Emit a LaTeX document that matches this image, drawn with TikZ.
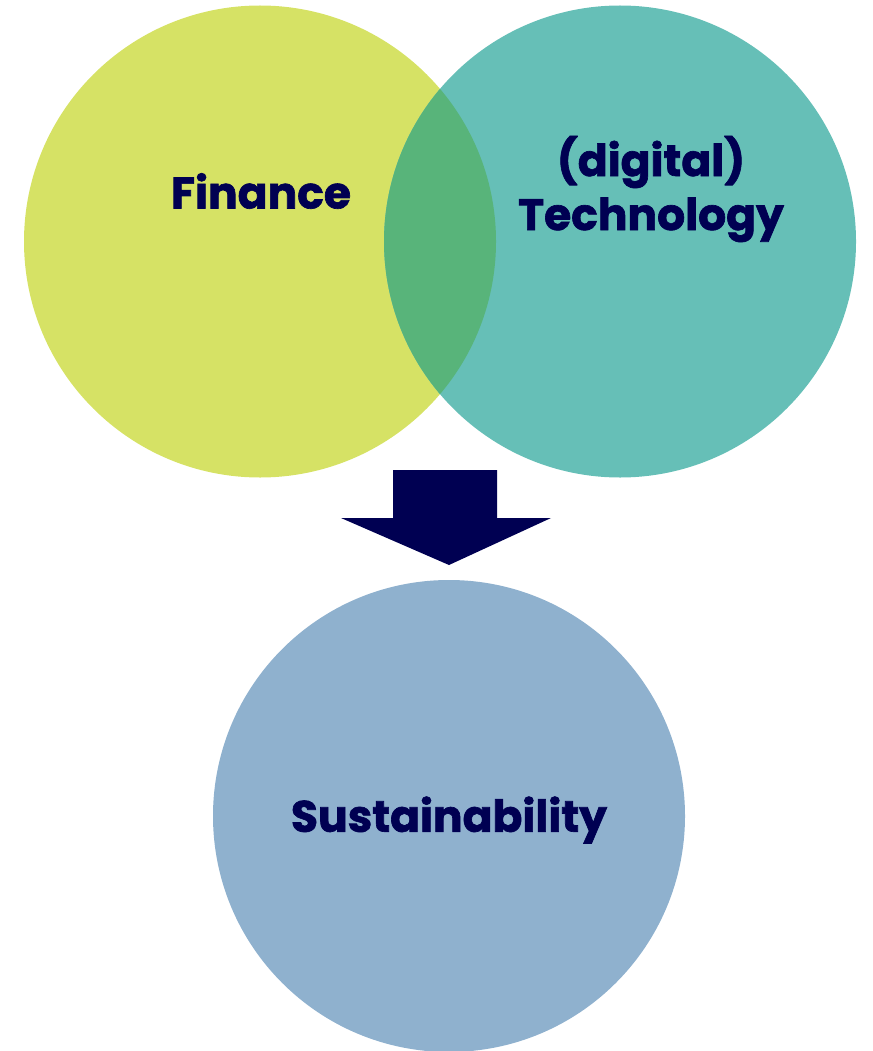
\documentclass[tikz,border=0pt]{standalone}
\usepackage{fontspec}
\setmainfont{Poppins}[BoldFont={* Bold},BoldFeatures={FakeBold=1.5}]
\definecolor{finc}{RGB}{214,226,101}
\definecolor{tecc}{RGB}{102,191,183}
\definecolor{ovc}{RGB}{88,180,122}
\definecolor{susc}{RGB}{143,177,206}
\definecolor{navy}{RGB}{0,0,82}
\begin{document}
\begin{tikzpicture}[x=1pt,y=-1pt,
  blob/.style={circle,minimum size=472pt,inner sep=0pt,draw=none},
  lbl/.style={font=\bfseries\fontsize{44}{54}\selectfont,text=navy,align=center}]
\useasboundingbox (0,0) rectangle (872,1051);
\node[blob,fill=finc] (fin) at (260,241.5) {};
\node[blob,fill=tecc] (tec) at (620,241.5) {};
\begin{scope}
  \clip (260,241.5) circle (236);
  \fill[ovc] (620,241.5) circle (236);
\end{scope}
\node[blob,fill=susc] (sus) at (449,816) {};
\fill[navy] (393,470) -- (497,470) -- (497,518) -- (551,518) -- (449,565) -- (341,518) -- (393,518) -- cycle;
\node[lbl] (tfin) at (261,191) {Finance};
\node[lbl] (ttec) at (651,189) {(digital)\\Technology};
\node[lbl] (tsus) at (449,820) {Sustainability};
\end{tikzpicture}
\end{document}
